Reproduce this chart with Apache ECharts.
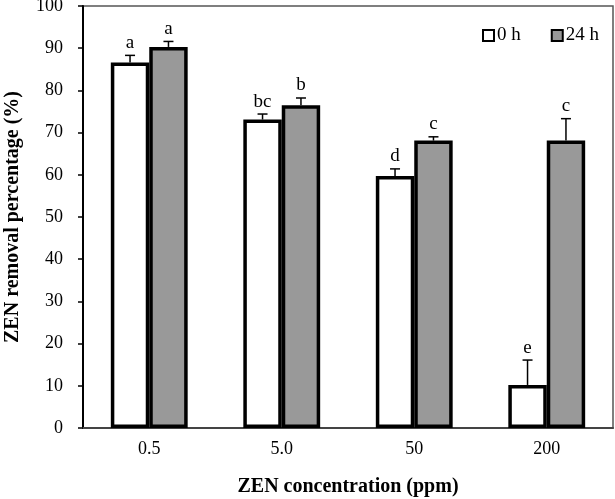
<!DOCTYPE html>
<html><head><meta charset="utf-8">
<script src="https://cdn.jsdelivr.net/npm/echarts@6/dist/echarts.min.js"></script>
<style>html,body{margin:0;padding:0;background:#fff}#c{width:615px;height:499px}</style>
</head><body><div id="c"></div>
<script>
var categories = ['0.5', '5.0', '50', '200'];
var seriesNames = ['0 h', '24 h'];
var values0h = [86.6, 73.1, 59.7, 10.2];
var values24h = [90.3, 76.5, 68.1, 68.1];
var err0h = [1.7, 1.3, 1.7, 5.9];
var err24h = [1.3, 1.7, 0.9, 5.2];
var letters0h = ['a', 'bc', 'd', 'e'];
var letters24h = ['a', 'b', 'c', 'c'];
var yTicks = {min: 0, max: 100, interval: 10};

var FONT = '"Liberation Serif", "Times New Roman", serif';
var BARW = 0.29;

function errSeries(vals, errs, letters, side) {
  var data = vals.map(function (v, i) { return [i, v, errs[i]]; });
  return {
    type: 'custom',
    silent: true,
    z: 5,
    data: data,
    encode: {x: 0, y: 1},
    renderItem: function (params, api) {
      var i = api.value(0), v = api.value(1), e = api.value(2);
      var letter = letters[params.dataIndex];
      var band = api.size([1, 0])[0];
      var c = api.coord([i, v]);
      var top = api.coord([i, v + e]);
      var x = c[0] + side * band * BARW / 2;
      return {
        type: 'group',
        children: [
          {type: 'line', shape: {x1: x, y1: c[1], x2: x, y2: top[1]}, style: {stroke: '#000', lineWidth: 1.5}},
          {type: 'line', shape: {x1: x - 5, y1: top[1], x2: x + 5, y2: top[1]}, style: {stroke: '#000', lineWidth: 1.5}},
          {type: 'text', x: x, y: top[1] - 3, style: {text: letter, textAlign: 'center', textVerticalAlign: 'bottom', font: '19px ' + FONT, fill: '#000'}}
        ]
      };
    }
  };
}

var chart = echarts.init(document.getElementById('c'));
chart.setOption({
  animation: false,
  backgroundColor: '#fff',
  grid: {left: 83, right: 2, top: 6, bottom: 71, outerBoundsMode: 'none', containLabel: false,
         show: true, borderColor: '#555', borderWidth: 1.5, backgroundColor: 'transparent'},
  legend: {
    data: seriesNames,
    right: 11, top: 21,
    itemWidth: 11, itemHeight: 11, itemGap: 30,
    icon: 'rect',
    textStyle: {fontFamily: FONT, fontSize: 19, color: '#000', padding: [0, 0, 0, -2]}
  },
  xAxis: {
    type: 'category',
    data: categories,
    axisLine: {lineStyle: {color: '#444', width: 2}},
    axisTick: {show: false},
    axisLabel: {fontFamily: FONT, fontSize: 18, color: '#000', margin: 12},
    name: 'ZEN concentration (ppm)',
    nameLocation: 'middle',
    nameGap: 49,
    nameTextStyle: {fontFamily: FONT, fontSize: 20, fontWeight: 'bold', color: '#000'}
  },
  yAxis: {
    type: 'value',
    min: yTicks.min, max: yTicks.max, interval: yTicks.interval,
    axisLine: {show: true, lineStyle: {color: '#000', width: 2}},
    axisTick: {show: true, length: 5, lineStyle: {color: '#000', width: 1.5}},
    splitLine: {show: false},
    axisLabel: {fontFamily: FONT, fontSize: 18, color: '#000', margin: 20},
    name: 'ZEN removal percentage (%)',
    nameLocation: 'middle',
    nameGap: 60,
    nameTextStyle: {fontFamily: FONT, fontSize: 20, fontWeight: 'bold', color: '#000'}
  },
  series: [
    {name: seriesNames[0], type: 'bar', data: values0h, barWidth: '29%', barGap: '0%',
     itemStyle: {color: '#fff', borderColor: '#000', borderWidth: 3.5}},
    {name: seriesNames[1], type: 'bar', data: values24h, barWidth: '29%', barGap: '0%',
     itemStyle: {color: '#999999', borderColor: '#000', borderWidth: 3.5}},
    errSeries(values0h, err0h, letters0h, -1),
    errSeries(values24h, err24h, letters24h, 1)
  ]
});
</script></body></html>
